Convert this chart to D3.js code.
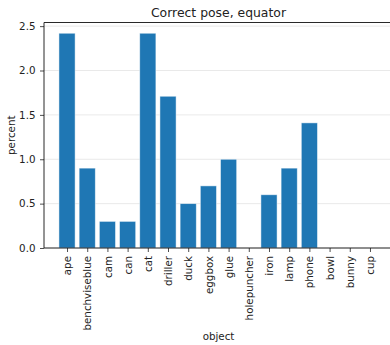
<!DOCTYPE html>
<html><head><meta charset="utf-8">
<script src="https://cdn.jsdelivr.net/npm/d3@7"></script>
<style>body{margin:0;background:#fff;} svg{display:block;} text{font-family:"DejaVu Sans",sans-serif;fill:#222;}</style>
</head><body><svg id="c" width="390" height="345"></svg>
<script>
const categories = ["ape","benchviseblue","cam","can","cat","driller","duck","eggbox","glue","holepuncher","iron","lamp","phone","bowl","bunny","cup"];
const values = [2.42,0.9,0.3,0.3,2.42,1.71,0.5,0.7,1.0,0,0.6,0.9,1.41,0,0,0];
const yTicks = [0,0.5,1.0,1.5,2.0,2.5];
const title = "Correct pose, equator";
const xTitle = "object";
const yTitle = "percent";

const svg = d3.select("#c");
const L = 44, R = 393, T = 22.5, B = 248;
const n = categories.length;
const x = d3.scaleLinear().domain([-1.14, n - 1 + 1.14]).range([L, R]);
const y = d3.scaleLinear().domain([0, d3.max(values) * 1.05]).range([B, T]);
const bw = x(0.8) - x(0);

// grid
svg.append("g").selectAll("line").data(yTicks).join("line")
  .attr("x1", L).attr("x2", R).attr("y1", d => y(d)).attr("y2", d => y(d))
  .attr("stroke", "#e3e3e3").attr("stroke-width", 0.8);

// bars
svg.append("g").selectAll("rect").data(values).join("rect")
  .attr("x", (d, i) => x(i) - bw / 2).attr("width", bw)
  .attr("y", d => y(d)).attr("height", d => B - y(d))
  .attr("fill", "#1f77b4")
  .attr("stroke", "#ffffff").attr("stroke-opacity", 0.6).attr("stroke-width", 0.8)
  .attr("display", d => d > 0 ? null : "none");

// y axis
const yAxis = d3.axisLeft(y).tickValues(yTicks).tickFormat(d3.format(".1f")).tickSize(4).tickPadding(4.5);
const gy = svg.append("g").attr("transform", `translate(${L},0)`).call(yAxis);
gy.select(".domain").remove();
gy.selectAll("line").attr("stroke", "#222").attr("stroke-width", 0.8);
gy.selectAll("text").attr("font-size", 10.3).attr("fill", "#222").style("font-family", "DejaVu Sans");

// x axis
const xAxis = d3.axisBottom(x).tickValues(d3.range(n)).tickFormat(i => categories[i]).tickSize(4).tickPadding(3.5);
const gx = svg.append("g").attr("transform", `translate(0,${B})`).call(xAxis);
gx.select(".domain").remove();
gx.selectAll("line").attr("stroke", "#222").attr("stroke-width", 0.8);
gx.selectAll("text").attr("font-size", 10.3).attr("fill", "#222").style("font-family", "DejaVu Sans")
  .attr("transform", "rotate(-90)").attr("text-anchor", "end")
  .attr("x", -8).attr("y", 0).attr("dy", "0.35em");

// spines
svg.append("line").attr("x1", L).attr("x2", L).attr("y1", T).attr("y2", B).attr("stroke", "#111").attr("stroke-width", 0.9);
svg.append("line").attr("x1", L).attr("x2", R).attr("y1", B).attr("y2", B).attr("stroke", "#111").attr("stroke-width", 0.9);
svg.append("line").attr("x1", L).attr("x2", R).attr("y1", T).attr("y2", T).attr("stroke", "#111").attr("stroke-width", 0.9);
svg.append("line").attr("x1", R).attr("x2", R).attr("y1", T).attr("y2", B).attr("stroke", "#111").attr("stroke-width", 0.9);

// titles
svg.append("text").attr("x", (L + R) / 2).attr("y", 16.5).attr("text-anchor", "middle").attr("font-size", 12.4).text(title);
svg.append("text").attr("x", (L + R) / 2).attr("y", 340).attr("text-anchor", "middle").attr("font-size", 10.3).text(xTitle);
svg.append("text").attr("transform", `translate(15,${(T + B) / 2}) rotate(-90)`).attr("text-anchor", "middle").attr("font-size", 10.3).text(yTitle);
</script></body></html>
